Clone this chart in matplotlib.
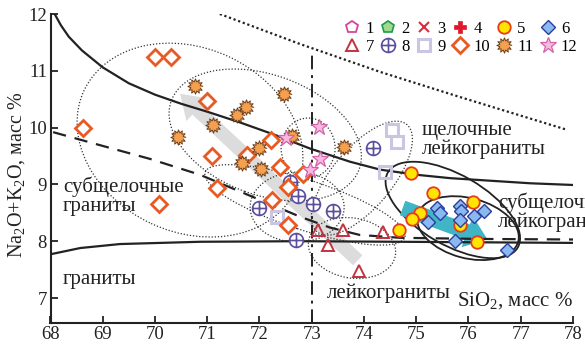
import numpy as np
import matplotlib.pyplot as plt
from matplotlib.path import Path
from matplotlib.patches import Ellipse, FancyArrowPatch
from matplotlib.transforms import ScaledTranslation

plt.rcParams['font.family'] = ['Liberation Serif', 'DejaVu Serif']
plt.rcParams['mathtext.fontset'] = 'custom'
plt.rcParams['mathtext.rm'] = 'Liberation Serif'
plt.rcParams['mathtext.it'] = 'Liberation Serif:italic'

# ---- данные (SiO2, Na2O+K2O) ----
s5_x = [74.90, 75.32, 76.09, 75.07, 74.92, 74.67, 75.84, 76.16]
s5_y = [9.20, 8.85, 8.69, 8.50, 8.39, 8.20, 8.29, 7.99]
s6_x = [75.40, 75.45, 75.22, 75.84, 75.86, 75.84, 76.10, 76.30, 75.74, 76.74]
s6_y = [8.58, 8.50, 8.34, 8.62, 8.53, 8.37, 8.44, 8.53, 8.00, 7.85]
s7_x = [73.12, 73.60, 73.31, 74.36, 73.90]
s7_y = [8.20, 8.20, 7.93, 8.16, 7.48]
s8_x = [74.17, 72.58, 72.74, 71.99, 73.02, 73.41, 72.70]
s8_y = [9.64, 9.04, 8.80, 8.58, 8.65, 8.53, 8.02]
s9_x = [74.54, 74.63, 74.40, 72.33]
s9_y = [9.96, 9.75, 9.22, 8.43]
s10_x = [70.00, 70.31, 68.62, 71.00, 71.09, 71.19, 70.08, 71.76, 72.22, 72.39, 72.83, 72.55, 72.24, 72.55]
s10_y = [11.24, 11.24, 9.99, 10.47, 9.50, 8.94, 8.65, 9.52, 9.78, 9.31, 9.18, 8.95, 8.73, 8.29]
s11_x = [70.77, 71.57, 71.74, 71.11, 70.44, 71.99, 71.67, 72.03, 72.47, 72.62, 73.62]
s11_y = [10.73, 10.22, 10.36, 10.05, 9.83, 9.64, 9.38, 9.27, 10.59, 9.85, 9.66]
s12_x = [73.14, 72.51, 73.16, 72.97]
s12_y = [10.01, 9.82, 9.45, 9.25]
# серии 1-4 на диаграмме точек не имеют (только легенда)
s1_x, s1_y, s2_x, s2_y, s3_x, s3_y, s4_x, s4_y = [], [], [], [], [], [], [], []

# ---- граничные линии ----
upper_x = [68.08, 68.2, 68.35, 68.6, 69.0, 69.5, 70.0, 70.5, 71.0, 71.63, 72.3, 72.97, 73.73, 74.31, 75.0, 75.65, 76.5, 77.18, 78.0]
upper_y = [12.0, 11.8, 11.6, 11.36, 11.06, 10.78, 10.58, 10.42, 10.28, 10.09, 9.87, 9.63, 9.4, 9.26, 9.17, 9.11, 9.06, 9.02, 8.99]
dash_x = [68.05, 68.95, 69.9, 70.86, 71.82, 72.78, 73.35, 73.92, 74.69, 76.22, 78.0]
dash_y = [9.92, 9.69, 9.45, 9.17, 8.80, 8.43, 8.24, 8.11, 8.06, 8.04, 8.03]
lower_x = [68.0, 68.57, 69.33, 70.86, 72.78, 74.69, 78.0]
lower_y = [7.77, 7.88, 7.95, 7.99, 8.0, 7.99, 7.97]
dot_x = [71.24, 72.78, 74.31, 75.9, 77.89]
dot_y = [12.0, 11.47, 10.98, 10.52, 9.96]

fig = plt.figure(figsize=(5.85, 3.44), dpi=100)
ax = fig.add_axes([50.5 / 585, 21 / 344, 522.5 / 585, 309 / 344])
ax.set_xlim(68, 78)
ax.set_ylim(6.56, 12)

ax.plot(upper_x, upper_y, color='#222222', lw=1.6, zorder=3)
ax.plot(dash_x, dash_y, color='#222222', lw=1.6, ls=(0, (6, 4)), zorder=3)
ax.plot(lower_x, lower_y, color='#222222', lw=1.6, zorder=3)
ax.plot(dot_x, dot_y, color='#222222', lw=1.6, ls=(0, (1, 1.2)), zorder=3)
ax.plot([73, 73], [6.56, 11.3], color='#222222', lw=1.4, ls=(0, (7, 3, 1.5, 3)), zorder=3)

# поля (эллипсы): центр в данных, полуоси в пикселях
def field(cx, cy, a, b, ang, **kw):
    tr = fig.dpi_scale_trans + ScaledTranslation(cx, cy, ax.transData)
    e = Ellipse((0, 0), 2 * a / 100, 2 * b / 100, angle=ang, transform=tr, fill=False, **kw)
    ax.add_patch(e)

dotted = dict(color='#333333', lw=0.9, ls=(0, (1, 1.5)), zorder=2)
field(70.67, 9.78, 117, 92, -25, **dotted)
field(72.11, 9.87, 100, 60, -20, **dotted)
field(72.93, 9.64, 27, 30, 0, **dotted)
field(73.96, 9.11, 70, 30, 50, **dotted)
field(72.72, 8.60, 47, 35, 0, **dotted)
field(73.77, 7.88, 44, 30, -10, **dotted)
field(72.87, 8.64, 105, 25, -18, **dotted)
solid = dict(color='#222222', lw=1.3, zorder=2)
field(75.70, 8.55, 75, 35, -30, **solid)
field(75.99, 8.23, 52, 30, -15, **solid)

# стрелки трендов
ax.add_patch(FancyArrowPatch((73.92, 7.63), (70.44, 10.63),
             arrowstyle='simple,head_length=1.2,head_width=1.6,tail_width=0.7',
             mutation_scale=14, color='#dcdcdc', lw=0, zorder=1.5))
ax.add_patch(FancyArrowPatch((74.69, 8.60), (76.41, 8.02),
             arrowstyle='simple,head_length=1.1,head_width=1.7,tail_width=0.8',
             mutation_scale=14, color='#3fb5c5', lw=0, zorder=2.5))

# маркеры
oplus = Path.make_compound_path(
    Path.unit_circle(),
    Path([(-1, 0), (1, 0), (0, -1), (0, 1)], [Path.MOVETO, Path.LINETO, Path.MOVETO, Path.LINETO]))
ang = np.linspace(0, 2 * np.pi, 24, endpoint=False)
rad = np.where(np.arange(24) % 2 == 0, 1.0, 0.62)
burst = Path(np.column_stack([rad * np.cos(ang), rad * np.sin(ang)]), closed=False)

pk = dict(ls='none', zorder=5)
h1, = ax.plot(s1_x, s1_y, marker='p', ms=9, mfc='none', mec='#d6449c', mew=1.3, **pk)
h2, = ax.plot(s2_x, s2_y, marker='p', ms=9, mfc='#9edb8e', mec='#1f9a4b', mew=1.2, **pk)
h3, = ax.plot(s3_x, s3_y, marker='x', ms=7, mec='#d6303f', mew=1.5, **pk)
h4, = ax.plot(s4_x, s4_y, marker='P', ms=9, mfc='#e0182d', mec='#e0182d', mew=0.5, **pk)
h5, = ax.plot(s5_x, s5_y, marker='o', ms=9, mfc='#ffe500', mec='#e83a1e', mew=1.3, **pk)
h6, = ax.plot(s6_x, s6_y, marker='D', ms=7, mfc='#8ab8f0', mec='#2a3f9a', mew=1.0, **pk)
h7, = ax.plot(s7_x, s7_y, marker='^', ms=9, mfc='none', mec='#c0343f', mew=1.4, **pk)
h8, = ax.plot(s8_x, s8_y, marker=oplus, ms=10, mfc='white', mec='#5b4e9c', mew=1.2, **pk)
h9, = ax.plot(s9_x, s9_y, marker='s', ms=9, mfc='none', mec='#c9c6e4', mew=2.2, **pk)
h10, = ax.plot(s10_x, s10_y, marker='D', ms=8, mfc='white', mec='#e85a24', mew=2.0, **pk)
h11, = ax.plot(s11_x, s11_y, marker=burst, ms=11, mfc='#f5a04e', mec='#6b3e1a', mew=0.7, **pk)
h12, = ax.plot(s12_x, s12_y, marker='*', ms=12, mfc='#f7b9df', mec='#d462a8', mew=0.9, **pk)

handles = [h1, h7, h2, h8, h3, h9, h4, h10, h5, h11, h6, h12]
labels = ['1', '7', '2', '8', '3', '9', '4', '10', '5', '11', '6', '12']
ax.legend(handles, labels, ncol=6, loc='upper left', bbox_to_anchor=(344 / 585, 1 - 21 / 344),
          bbox_transform=fig.transFigure, frameon=False, fontsize=12, handlelength=1.0,
          handletextpad=0.3, columnspacing=0.35, labelspacing=0.1, borderpad=0, borderaxespad=0)

# подписи полей
tk = dict(fontsize=15, color='#222222', zorder=6)
ax.text(68.24, 8.80, 'субщелочные\nграниты', ha='left', va='center', linespacing=1.0, **tk)
ax.text(68.24, 7.32, 'граниты', ha='left', va='center', **tk)
ax.text(75.11, 9.78, 'щелочные\nлейкограниты', ha='left', va='center', linespacing=1.0, **tk)
ax.text(76.56, 8.51, 'субщелочные\nлейкограниты', ha='left', va='center', linespacing=1.0, **tk)
ax.text(73.29, 7.09, 'лейкограниты', ha='left', va='center', **tk)
ax.text(78.0, 6.96, 'SiO$_2$, масс %', ha='right', va='center', **tk)
fig.text(17 / 585, 1 - 175 / 344, 'Na$_2$O+K$_2$O, масс %', rotation=90,
         ha='center', va='center', fontsize=14.5, color='#222222')

ax.spines['top'].set_visible(False)
ax.spines['right'].set_visible(False)
for s in ['left', 'bottom']:
    ax.spines[s].set_linewidth(1.5)
    ax.spines[s].set_color('#222222')
ax.set_xticks(range(68, 79))
ax.set_yticks(range(7, 13))
ax.tick_params(direction='in', length=5, width=1.3, labelsize=13.5, pad=2.5, colors='#222222')

fig.savefig('out.png', dpi=100)
